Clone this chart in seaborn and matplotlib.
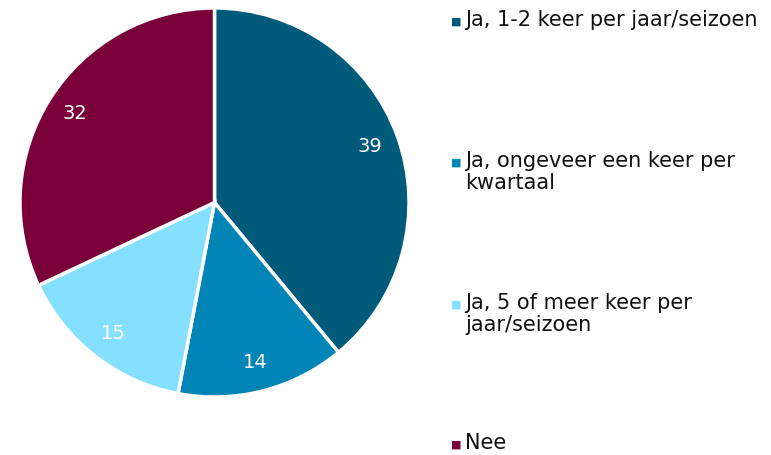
import matplotlib
matplotlib.use("Agg")
import matplotlib.pyplot as plt
import seaborn as sns

categories = ["Ja, 1-2 keer per jaar/seizoen",
              "Ja, ongeveer een keer per\nkwartaal",
              "Ja, 5 of meer keer per\njaar/seizoen",
              "Nee"]
values = [39, 14, 15, 32]
colors = ["#005A7A", "#0085B6", "#85E0FF", "#7A0039"]

sns.set_theme(style="white")
plt.rcParams["font.family"] = ["DejaVu Sans"]

fig = plt.figure(figsize=(7.71, 4.55), dpi=100)
ax = fig.add_axes([19/771, 57/455, 391/771, 391/455])
pal = sns.color_palette(colors)

wedges, texts, autotexts = ax.pie(
    values, colors=pal, startangle=90, counterclock=False,
    autopct=lambda p: f"{p:.0f}", pctdistance=0.85,
    wedgeprops=dict(edgecolor="white", linewidth=2.5),
    textprops=dict(color="white", fontsize=14))
ax.set_xlim(-1.005, 1.005)
ax.set_ylim(-1.005, 1.005)
ax.set_aspect("equal")

# legend, hand placed
tops = [22, 163, 305, 445]
for lab, c, y in zip(categories, colors, tops):
    fig.text(451/771, 1 - y/455, "■", color=c, fontsize=8, va="center", ha="left")
    fig.text(465/771, 1 - (y - 12)/455, lab, color="#111111", fontsize=15,
             va="top", ha="left", linespacing=1.1)

fig.savefig("out.png", dpi=100)
